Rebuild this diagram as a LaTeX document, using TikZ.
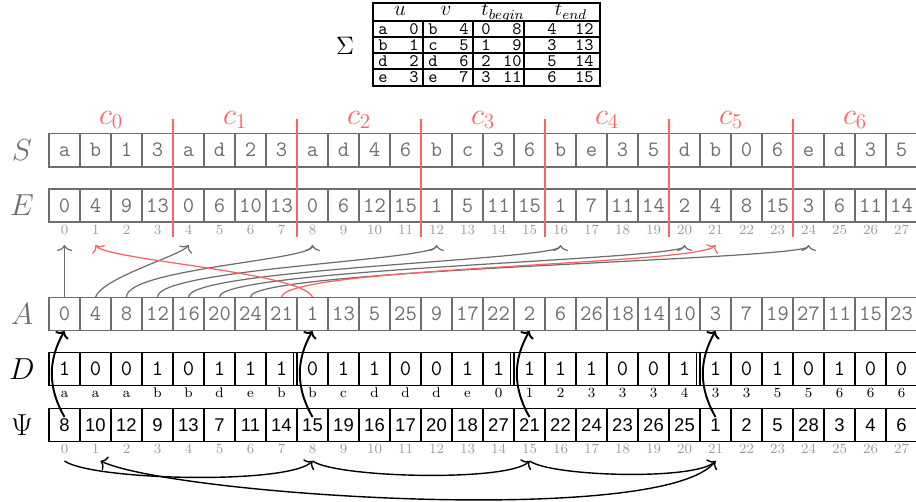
\documentclass[tikz,border=0pt]{standalone}
\usepackage{fontspec}
\setsansfont{Liberation Sans}
\usepackage{amsmath,amssymb}
\usetikzlibrary{arrows.meta, positioning, calc}
\definecolor{SAGray}{HTML}{6E6E6E}
\definecolor{SALightGray}{HTML}{9C9C9C}
\definecolor{SARed}{HTML}{FF6262}
\definecolor{SABlack}{HTML}{000000}
\tikzset{
    % Cell styles
    graycell/.style={
        rectangle,
        draw=SAGray,
        line width=0.6pt,
        minimum width=6.2mm,
        minimum height=6.6mm,
        inner sep=0pt,
        text=SAGray,
        text height=7.8pt,
        text depth=0pt,
        font=\fontsize{12.5}{13}\ttfamily
    },
    blackcell/.style={
        graycell,
        draw=SABlack,
        text=SABlack
    },
    psicell/.style={
        blackcell,
        text height=7.6pt,
        font=\fontsize{10.5}{12}\sffamily
    },
    tablecell/.style={
        inner sep=0pt,
        text height=6pt,
        text depth=0pt,
        font=\fontsize{10}{11}\ttfamily
    },
    tablehead/.style={
        inner sep=0pt,
        font=\fontsize{11.5}{12}\selectfont
    },
    % Label styles
    rowlabel/.style={font=\fontsize{16}{17}\selectfont, text=SAGray},
    chunklabel/.style={font=\fontsize{17}{18}\selectfont, text=SARed},
    indexlabel/.style={
        inner sep=0pt,
        text height=5.3pt,
        text depth=0pt,
        text=SALightGray,
        font=\fontsize{8}{9}\selectfont
    },
    sublabel/.style={indexlabel, text=SABlack},
    % Arrow styles
    grayarrow/.style={-{To[width=3mm,length=1.2mm]}, SAGray, line width=0.7pt},
    redarrow/.style={-{To[width=3mm,length=1.2mm]}, SARed, line width=0.7pt},
    blackarrow/.style={-{To[width=3mm,length=1.2mm]}, SABlack, line width=1.1pt},
    looparrow/.style={-{To[width=3mm,length=1.2mm]}, SABlack, line width=0.8pt},
    chunkline/.style={SARed, line width=1.1pt}
}

\begin{document}
\begin{tikzpicture}[x=0.2mm, y=0.2mm]
\useasboundingbox (0,0) rectangle (916,-502);

% Sigma table
\node[font=\fontsize{15}{15}\selectfont] (sigma) at (345,-46) {$\Sigma$};
\draw[line width=0.6pt] (373,-3) rectangle (600,-86);
\foreach \y in {21,37,53,69}
    \draw[line width=0.6pt] (373,-\y) -- (600,-\y);
\foreach \x in {423,473,524}
    \draw[line width=0.6pt] (\x,-21) -- (\x,-86);
\node[tablehead, anchor=base] (thu) at (400,-16) {$u$};
\node[tablehead, anchor=base] (thv) at (446,-16) {$v$};
\node[tablehead, anchor=base] (thb) at (503,-16) {$t_{begin}$};
\node[tablehead, anchor=base] (the) at (571,-16) {$t_{end}$};
\foreach \ua/\ub/\va/\vb/\ba/\bb/\ea/\eb [count=\r from 0] in
    {a/0/b/4/0/8/4/12, b/1/c/5/1/9/3/13, d/2/d/6/2/10/5/14, e/3/e/7/3/11/6/15} {
    \node[tablecell] (tua\r) at (383,{-29-16*\r}) {\ua};
    \node[tablecell, anchor=east] (tub\r) at (419,{-29-16*\r}) {\ub};
    \node[tablecell] (tva\r) at (433,{-29-16*\r}) {\va};
    \node[tablecell, anchor=east] (tvb\r) at (469,{-29-16*\r}) {\vb};
    \node[tablecell] (tba\r) at (486,{-29-16*\r}) {\ba};
    \node[tablecell, anchor=east] (tbb\r) at (522,{-29-16*\r}) {\bb};
    \node[tablecell] (tea\r) at (552,{-29-16*\r}) {\ea};
    \node[tablecell, anchor=east] (teb\r) at (594,{-29-16*\r}) {\eb};
}

% Row labels
\node[rowlabel] (Slabel) at (22,-150) {$S$};
\node[rowlabel] (Elabel) at (22,-205) {$E$};
\node[rowlabel] (Alabel) at (22,-314) {$A$};
\node[rowlabel, text=SABlack] (Dlabel) at (22,-369) {$D$};
\node[rowlabel, text=SABlack] (Plabel) at (22,-425) {$\Psi$};

% Rows S and E
\foreach \v [count=\i from 0] in {a,b,1,3,a,d,2,3,a,d,4,6,b,c,3,6,b,e,3,5,d,b,0,6,e,d,3,5}
    \node[graycell] (s\i) at ({64.5+31*\i},-150) {\v};
\draw[SAGray, line width=1.3pt] (s0.south west) -- (s27.south east);
\foreach \v [count=\i from 0] in {0,4,9,13,0,6,10,13,0,6,12,15,1,5,11,15,1,7,11,14,2,4,8,15,3,6,11,14} {
    \node[graycell] (e\i) at ({64.5+31*\i},-205.5) {\v};
    \node[indexlabel] (ie\i) at ({64.5+31*\i},-230) {\i};
    \coordinate (et\i) at ({64.5+31*\i},-245);
}

% Chunks
\foreach \k in {0,...,6}
    \node[chunklabel] (c\k) at ({111+124*\k},-120) {$c_{\k}$};
\foreach \k in {1,...,6}
    \draw[chunkline] ({49+124*\k},-119) -- ({49+124*\k},-237);

% Row A
\foreach \v [count=\i from 0] in {0,4,8,12,16,20,24,21,1,13,5,25,9,17,22,2,6,26,18,14,10,3,7,19,27,11,15,23}
    \node[graycell] (a\i) at ({64.5+31*\i},-314) {\v};

% Pointers from A into E
\draw[grayarrow] (a0.north) -- (et0);
\draw[grayarrow] (a1.north) .. controls +(8,20) and +(-6,-10) .. (et4);
\foreach \i/\j in {2/8,3/12,4/16,5/20,6/24}
    \draw[grayarrow] (a\i.north) .. controls +(0,28) and +(0,-15) .. (et\j);
\draw[redarrow] (a7.north) .. controls +(6,30) and +(-16,-20) .. (et21);
\draw[redarrow] (a8.north) .. controls +(-12,25) and +(10,-15) .. (et1);

% Row D
\foreach \v [count=\i from 0] in {1,0,0,1,0,1,1,1,0,1,1,0,0,1,1,1,1,1,0,0,1,1,0,1,0,1,0,0}
    \node[blackcell] (d\i) at ({64.5+31*\i},-369) {\v};
\foreach \v [count=\i from 0] in {a,a,a,b,b,d,e,b,b,c,d,d,d,e,0,1,2,3,3,3,4,3,3,5,5,6,6,6}
    \node[sublabel] (dl\i) at ({64.5+31*\i},-393) {\v};
\foreach \i in {8,15,21}
    \draw[SABlack, line width=0.6pt] ([xshift=-0.6mm]d\i.north west) -- ([xshift=-0.6mm]d\i.south west);

% Row Psi
\foreach \v [count=\i from 0] in {8,10,12,9,13,7,11,14,15,19,16,17,20,18,27,21,22,24,23,26,25,1,2,5,28,3,4,6} {
    \node[psicell] (p\i) at ({64.5+31*\i},-425) {\v};
    \node[indexlabel] (ip\i) at ({64.5+31*\i},-449) {\i};
    \coordinate (pt\i) at ({64.5+31*\i},-461);
}

% Psi back into A
\foreach \i in {0,8,15,21}
    \draw[blackarrow] ([yshift=-1.8mm]p\i.north) to[bend left=30] (a\i.south);

% Psi cycle
\draw[looparrow] (pt0) to[out=-35, in=-135, looseness=0.35] (pt8);
\draw[looparrow] (pt8) to[out=-35, in=-135, looseness=0.35] (pt15);
\draw[looparrow] (pt15) to[out=-35, in=-135, looseness=0.38] (pt21);
\draw[looparrow] (pt21) to[out=-125, in=-25, looseness=0.34] ([xshift=1mm]pt1);
\end{tikzpicture}
\end{document}
